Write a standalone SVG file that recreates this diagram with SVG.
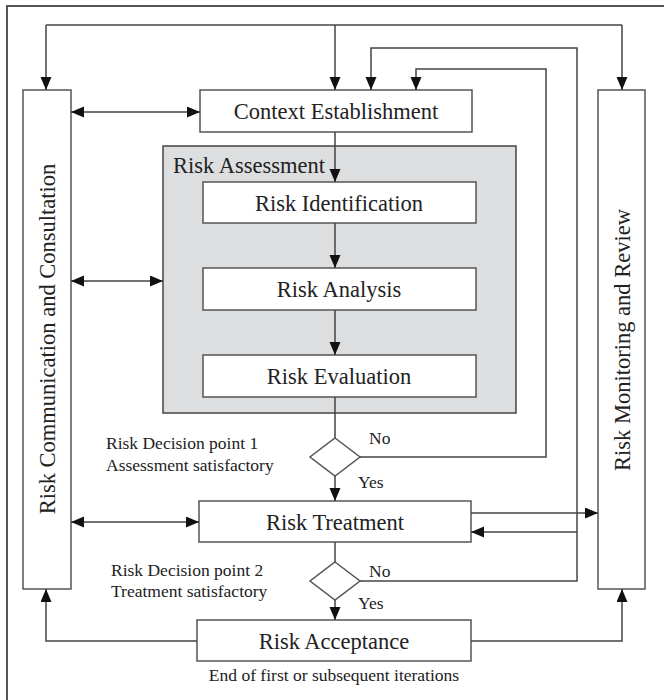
<svg xmlns="http://www.w3.org/2000/svg" width="664" height="700" viewBox="0 0 664 700">
<style>
  .box { fill: #ffffff; stroke: #555555; stroke-width: 1.5; }
  .gray { fill: #dddee0; stroke: #444444; stroke-width: 1.5; }
  .line { fill: none; stroke: #444444; stroke-width: 1.5; }
  .t { font-family: "Liberation Serif", "Times New Roman", serif; fill: #222222; }
  .big { font-size: 22.5px; }
  .small { font-size: 17.5px; }
  .mid { text-anchor: middle; }
</style>
<defs>
  <marker id="arr" markerUnits="userSpaceOnUse" markerWidth="14" markerHeight="12" refX="13" refY="5.5" orient="auto-start-reverse">
    <path d="M0,0 L13,5.5 L0,11 z" fill="#111111"/>
  </marker>
</defs>
<rect x="0" y="0" width="664" height="700" fill="#ffffff"/>
<rect x="7" y="6" width="690" height="720" fill="none" stroke="#444444" stroke-width="1.8"/>

<g id="risk-assessment">
  <rect class="gray" x="163" y="146" width="353" height="267"/>
  <text class="t big" x="173" y="173">Risk Assessment</text>
</g>
<g id="communication">
  <rect class="box" x="23" y="90" width="48" height="499"/>
  <text class="t big mid" transform="translate(55,339) rotate(-90)">Risk Communication and Consultation</text>
</g>
<g id="monitoring">
  <rect class="box" x="598" y="90" width="47" height="499"/>
  <text class="t big mid" transform="translate(630,340) rotate(-90)">Risk Monitoring and Review</text>
</g>
<g id="context">
  <rect class="box" x="200" y="90" width="272" height="42"/>
  <text class="t big mid" x="336" y="119">Context Establishment</text>
</g>
<g id="identification">
  <rect class="box" x="203" y="182" width="273" height="41"/>
  <text class="t big mid" x="339" y="211">Risk Identification</text>
</g>
<g id="analysis">
  <rect class="box" x="203" y="268" width="273" height="42"/>
  <text class="t big mid" x="339" y="297">Risk Analysis</text>
</g>
<g id="evaluation">
  <rect class="box" x="203" y="355" width="273" height="42"/>
  <text class="t big mid" x="339" y="384">Risk Evaluation</text>
</g>
<g id="decision1">
  <polygon class="box" points="335,438 360,457 335,476 310,457"/>
  <text class="t small" x="106" y="449">Risk Decision point 1</text>
  <text class="t small" x="106" y="471">Assessment satisfactory</text>
</g>
<g id="treatment">
  <rect class="box" x="199" y="501" width="272" height="41"/>
  <text class="t big mid" x="335" y="530">Risk Treatment</text>
</g>
<g id="decision2">
  <polygon class="box" points="335,562 360,581 335,600 310,581"/>
  <text class="t small" x="111" y="576">Risk Decision point 2</text>
  <text class="t small" x="111" y="597">Treatment satisfactory</text>
</g>
<g id="acceptance">
  <rect class="box" x="197" y="620" width="274" height="41"/>
  <text class="t big mid" x="334" y="649">Risk Acceptance</text>
  <text class="t small mid" x="334" y="681">End of first or subsequent iterations</text>
</g>

<g id="connectors">
  <path class="line" d="M46,25 L622,25"/>
  <path class="line" d="M46,25 L46,90" marker-end="url(#arr)"/>
  <path class="line" d="M622,25 L622,90" marker-end="url(#arr)"/>
  <path class="line" d="M335,25 L335,90" marker-end="url(#arr)"/>
  <path class="line" d="M360,581 L577,581 L577,48 L371,48 L371,90" marker-end="url(#arr)"/>
  <path class="line" d="M360,457 L546,457 L546,69 L416,69 L416,90" marker-end="url(#arr)"/>
  <path class="line" d="M335,132 L335,182" marker-end="url(#arr)"/>
  <path class="line" d="M335,223 L335,268" marker-end="url(#arr)"/>
  <path class="line" d="M335,310 L335,355" marker-end="url(#arr)"/>
  <path class="line" d="M335,397 L335,438"/>
  <path class="line" d="M335,476 L335,501" marker-end="url(#arr)"/>
  <path class="line" d="M335,542 L335,562"/>
  <path class="line" d="M335,600 L335,620" marker-end="url(#arr)"/>
  <path class="line" d="M71,112 L200,112" marker-start="url(#arr)" marker-end="url(#arr)"/>
  <path class="line" d="M71,281 L163,281" marker-start="url(#arr)" marker-end="url(#arr)"/>
  <path class="line" d="M71,522 L199,522" marker-start="url(#arr)" marker-end="url(#arr)"/>
  <path class="line" d="M471,513 L598,513" marker-end="url(#arr)"/>
  <path class="line" d="M577,532 L471,532" marker-end="url(#arr)"/>
  <path class="line" d="M197,641 L46,641 L46,589" marker-end="url(#arr)"/>
  <path class="line" d="M471,641 L622,641 L622,589" marker-end="url(#arr)"/>
  <text class="t small" x="369" y="444">No</text>
  <text class="t small" x="358" y="488">Yes</text>
  <text class="t small" x="369" y="577">No</text>
  <text class="t small" x="358" y="609">Yes</text>
</g>
</svg>
